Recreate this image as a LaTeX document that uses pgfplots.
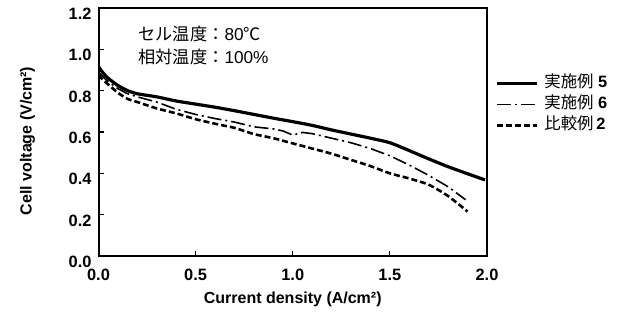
\documentclass[border=0pt]{standalone}
\usepackage{fontspec}
\setmainfont{Liberation Sans}
\newfontfamily\cjk{Noto Sans CJK JP}
\usepackage{pgfplots}
\pgfplotsset{compat=1.18}
\begin{document}
\begin{tikzpicture}
\begin{axis}[
 at={(0,0)}, anchor=south west,
 scale only axis, width=194.25pt, height=124pt,
 xmin=0, xmax=2, ymin=0, ymax=1.2,
 xtick={0,0.5,1,1.5,2}, ytick={0,0.2,0.4,0.6,0.8,1.0,1.2},
 tick align=inside, xtick pos=bottom, ytick pos=left,
 major tick length=2.5pt,
 every tick/.style={black, line width=0.6pt},
 axis line style={line width=1pt},
 tick label style={font=\bfseries\fontsize{8.2}{9}\selectfont},
 /pgf/number format/assume math mode=true,
 xticklabel style={/pgf/number format/fixed, /pgf/number format/fixed zerofill, /pgf/number format/precision=1, yshift=-3pt},
 yticklabel style={/pgf/number format/fixed, /pgf/number format/fixed zerofill, /pgf/number format/precision=1, yshift=-3pt},
 xlabel={Current density (A/cm²)},
 ylabel={Cell voltage (V/cm²)},
 label style={font=\bfseries\fontsize{8}{9}\selectfont},
 xlabel style={at={(axis description cs:0.5,-0.173)}, anchor=center},
 ylabel style={at={(axis description cs:-0.183,0.464)}, anchor=center},
 legend style={at={(rel axis cs:1.02,0.74)}, anchor=north west, draw=none, fill=none, inner sep=0pt,
   font=\fontsize{8.2}{9}\selectfont,
   nodes={text height=6pt, text depth=1.5pt, inner ysep=1.5pt, inner xsep=3pt}},
 legend cell align=left,
 legend image code/.code={\draw[#1] (0pt,0pt) -- (20pt,0pt);},
]
\addplot[black, line width=1.6pt, smooth, tension=0.4] coordinates {
(0,0.916) (0.02,0.89) (0.05,0.86) (0.1,0.825) (0.15,0.80) (0.2,0.785) (0.3,0.77) (0.4,0.75) (0.5,0.735) (0.6,0.72) (0.7,0.703) (0.8,0.685) (0.9,0.667) (1.0,0.65) (1.1,0.632) (1.2,0.61) (1.3,0.59) (1.4,0.57) (1.5,0.548) (1.6,0.51) (1.7,0.47) (1.8,0.432) (1.9,0.398) (1.99,0.368)};
\addlegendentry{{\cjk 実施例} \textbf{5}}
\addplot[black, line width=0.8pt, dash pattern=on 7pt off 2pt on 1pt off 2pt] coordinates {
(0,0.89) (0.02,0.87) (0.05,0.843) (0.1,0.81) (0.15,0.785) (0.2,0.77) (0.3,0.745) (0.4,0.71) (0.5,0.685) (0.6,0.665) (0.7,0.648) (0.8,0.625) (0.9,0.615) (0.95,0.605) (1.0,0.585) (1.05,0.598) (1.1,0.592) (1.2,0.57) (1.3,0.548) (1.4,0.52) (1.5,0.485) (1.6,0.44) (1.7,0.39) (1.8,0.335) (1.89,0.272)};
\addlegendentry{{\cjk 実施例} \textbf{6}}
\addplot[black, line width=1.3pt, dash pattern=on 3pt off 1.5pt, smooth, tension=0.4] coordinates {
(0,0.876) (0.02,0.855) (0.05,0.83) (0.1,0.79) (0.15,0.76) (0.2,0.745) (0.3,0.714) (0.4,0.69) (0.5,0.662) (0.6,0.64) (0.7,0.62) (0.8,0.59) (0.9,0.57) (1.0,0.545) (1.1,0.52) (1.2,0.495) (1.3,0.465) (1.4,0.435) (1.5,0.40) (1.6,0.375) (1.7,0.345) (1.8,0.29) (1.9,0.215)};
\addlegendentry{{\cjk 比較例}\,\textbf{2}}
\node[anchor=west, inner sep=0pt, font=\fontsize{8.6}{9}\selectfont] at (rel axis cs:0.102,0.895) {{\cjk セル温度：}80{\cjk ℃}};
\node[anchor=west, inner sep=0pt, font=\fontsize{8.6}{9}\selectfont] at (rel axis cs:0.102,0.802) {{\cjk 相対温度：}100\%};
\end{axis}
\path[use as bounding box] (-49.25pt,-35pt) rectangle (260.75pt,128pt);
\end{tikzpicture}
\end{document}
